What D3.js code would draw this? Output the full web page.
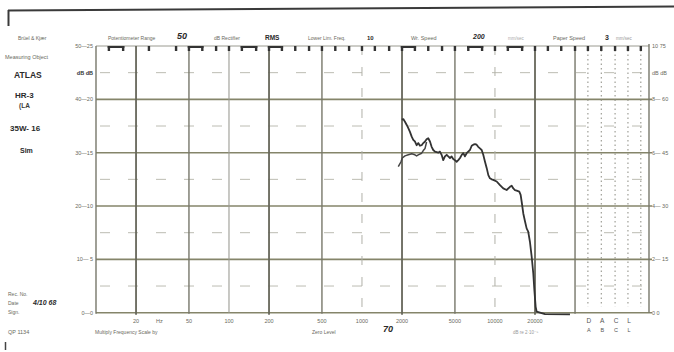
<!DOCTYPE html>
<html><head><meta charset="utf-8">
<script src="https://cdn.jsdelivr.net/npm/d3@7"></script>
<style>body{margin:0;background:#fff}svg{display:block}text{font-family:"Liberation Sans","DejaVu Sans",sans-serif}</style>
</head><body><svg id="c" width="674" height="352"></svg>
<script>
// ---- data ----
const traceFreq = [1990,2045,2105,2170,2230,2295,2365,2430,2500,2575,2650,2730,2810,2890,2980,3060,3150,3245,3340,3435,3540,3750,3855,3970,4085,4205,4335,4455,4590,4720,4855,5000,5150,5300,5460,5625,5780,5945,6125,6295,6485,6685,6870,7080,7280,7480,7710,7945,8165,8415,8670,8915,9165,9440,9705,10300,10910,11540,12240,12970,13360,13740,14130,14560,15240,15600,15880,16330,16830,17300,17780,18320,18880,19410,19770,20230,20590,23770,36640];
const traceDb = [36.2,36.3,35.8,35.2,34.6,33.9,33.0,32.4,32.1,31.4,31.8,31.3,31.4,31.8,32.1,32.5,32.7,32.1,31.1,30.5,30.2,30.0,30.2,29.6,28.6,29.3,29.6,29.3,29.0,29.3,28.8,28.6,28.3,28.6,29.0,29.6,29.9,29.3,29.9,30.2,30.5,31.3,31.5,31.6,31.5,31.1,30.8,30.5,29.6,28.3,27.1,25.8,25.2,25.0,24.9,24.6,23.9,23.3,23.0,23.6,23.8,23.3,23.0,22.9,22.7,22.1,20.8,18.6,17.1,15.8,15.2,13.3,10.5,7.4,4.3,1.1,0.2,-0.25,-0.3];
const startFreq = [1875,1965,2010,2105,2230,2365,2500,2575,2650,2810,2890,2980,3060];
const startDb = [27.4,28.3,29.0,29.4,29.6,29.8,29.6,29.4,29.6,29.9,30.4,30.8,32.0];

const majorDb = [0,10,20,30,40,50];
const minorDb = [5,15,25,35,45];
const leftLabels = ["0—0","10— 5","20—10","30—15","40—20","50—25"];
const rightLabels = ["0    0","2— 15","4— 30","6— 45","8— 60","10  75"];
const heavyFreq = [20,200,2000,20000];
const mediumFreq = [10,50,500,5000,40000];
const lightFreq = [100];
const dashedFreq = [1000,10000];
const weightFreq = [50000,63000,80000,100000,125000];
const weightRow1 = ["D","A","C","L"];
const weightRow2 = ["A","B","C","L"];
const tickFreqLabels = [20,50,100,200,500,1000,2000,5000,10000,20000];
const tickTexts = ["20","50","100","200","500","1000","2000","5000","10000","20000"];
const thirdOct = [12.5,16,25,40,50,63,80,100,125,160,200,250,315,400,500,630,800,1000,1250,1600,2000,2500,3150,4000,5000,6300,8000,10000,12500,16000,20000,25000,31500,40000,50000,63000,80000,100000,125000];
const bracketPairs = [[12.5,16],[50,63],[125,160],[200,250],[2000,2500],[6300,8000],[12500,16000]];

// ---- scales ----
const svg = d3.select("#c");
const x = d3.scaleLog().domain([10,20000]).range([96,535]);
const y = d3.scaleLinear().domain([0,50]).range([312.7,46]);
const xRight = 649;
const gridCol = "#85856a";

// frame marks
svg.append("line").attr("x1",8).attr("y1",10.5).attr("x2",674).attr("y2",6.5).attr("stroke","#3a3a3a").attr("stroke-width",2.2);
svg.append("line").attr("x1",8.5).attr("y1",10).attr("x2",8.5).attr("y2",26).attr("stroke","#3a3a3a").attr("stroke-width",2);
svg.append("line").attr("x1",5.5).attr("y1",342).attr("x2",5.5).attr("y2",350).attr("stroke","#444").attr("stroke-width",1.5);

const g = svg.append("g");
// minor horizontal dashed
g.selectAll(".mn").data(minorDb).join("line")
 .attr("x1",100).attr("x2",xRight-4).attr("y1",d=>y(d)).attr("y2",d=>y(d))
 .attr("stroke","#bcbcb2").attr("stroke-width",1).attr("stroke-dasharray","10,18");
// major horizontal
g.selectAll(".mj").data(majorDb.filter(d=>d!==50)).join("line")
 .attr("x1",x(10)).attr("x2",xRight+3).attr("y1",d=>y(d)).attr("y2",d=>y(d))
 .attr("stroke",gridCol).attr("stroke-width",1.6);
g.append("line").attr("x1",x(10)).attr("x2",xRight).attr("y1",y(50)).attr("y2",y(50)).attr("stroke","#9a9a90").attr("stroke-width",1);

// vertical lines
g.selectAll(".vh").data(heavyFreq).join("line")
 .attr("x1",d=>x(d)).attr("x2",d=>x(d)).attr("y1",y(50)).attr("y2",y(0)+2)
 .attr("stroke","#66665a").attr("stroke-width",1.8);
g.selectAll(".vm").data(mediumFreq).join("line")
 .attr("x1",d=>x(d)).attr("x2",d=>x(d)).attr("y1",y(50)).attr("y2",y(0)+1)
 .attr("stroke","#77776a").attr("stroke-width",1.4);
g.selectAll(".vl").data(lightFreq).join("line")
 .attr("x1",d=>x(d)).attr("x2",d=>x(d)).attr("y1",y(50)).attr("y2",y(0))
 .attr("stroke","#9c9c94").attr("stroke-width",1.1);
g.selectAll(".vd").data(dashedFreq).join("line")
 .attr("x1",d=>x(d)).attr("x2",d=>x(d)).attr("y1",y(50)).attr("y2",y(0))
 .attr("stroke","#b0b0a8").attr("stroke-width",1).attr("stroke-dasharray","9,12");
g.selectAll(".vw").data(weightFreq).join("line")
 .attr("x1",d=>x(d)).attr("x2",d=>x(d)).attr("y1",y(50)+4).attr("y2",y(0)-6)
 .attr("stroke","#8a8a80").attr("stroke-width",1).attr("stroke-dasharray","1.5,3");
g.append("line").attr("x1",xRight).attr("x2",xRight).attr("y1",y(50)-2).attr("y2",y(0))
 .attr("stroke","#77776a").attr("stroke-width",1.4);

// top tick marks (third-octave)
g.selectAll(".tk").data(thirdOct).join("rect")
 .attr("x",d=>x(d)-1.2).attr("y",y(50)).attr("width",2.4).attr("height",5).attr("fill","#333");
g.selectAll(".br").data(bracketPairs).join("rect")
 .attr("x",d=>x(d[0])-1.2).attr("y",y(50)).attr("width",d=>x(d[1])-x(d[0])+2.4).attr("height",2).attr("fill","#333");

// curve
const line = d3.line().x(d=>x(d[0])).y(d=>y(d[1]));
const trace = traceFreq.map((f,i)=>[f,traceDb[i]]);
const start = startFreq.map((f,i)=>[f,startDb[i]]);
g.append("path").attr("d",line(trace)).attr("fill","none").attr("stroke","#333").attr("stroke-width",1.8).attr("stroke-linejoin","round");
g.append("path").attr("d",line(start)).attr("fill","none").attr("stroke","#444").attr("stroke-width",1.5).attr("stroke-linejoin","round");

// axis labels
const lab = svg.append("g").attr("fill","#6a6a60").attr("font-size",5.5);
lab.selectAll(".ll").data(majorDb).join("text")
 .attr("x",93).attr("y",d=>y(d)+2).attr("text-anchor","end").text((d,i)=>leftLabels[i]);
lab.append("text").attr("x",93).attr("y",y(45)+2).attr("text-anchor","end").attr("fill","#333").attr("font-weight","bold").text("dB dB");
lab.selectAll(".rl").data(majorDb).join("text")
 .attr("x",652).attr("y",d=>y(d)+2).text((d,i)=>rightLabels[i]);
lab.append("text").attr("x",652).attr("y",y(45)+2).text("dB  dB");
lab.selectAll(".fl").data(tickFreqLabels).join("text")
 .attr("x",d=>x(d)).attr("y",323).attr("text-anchor","middle").text((d,i)=>tickTexts[i]);
lab.append("text").attr("x",x(30)).attr("y",323).attr("text-anchor","middle").text("Hz");
lab.selectAll(".w1").data(weightRow1).join("text")
 .attr("x",(d,i)=>x(weightFreq[i])+1).attr("y",323).attr("text-anchor","middle").attr("font-size",6.5).attr("fill","#555").text(d=>d);
lab.selectAll(".w2").data(weightRow2).join("text")
 .attr("x",(d,i)=>x(weightFreq[i])+1).attr("y",332).attr("text-anchor","middle").attr("font-size",5.5).attr("fill","#555").text(d=>d);

// header / side texts
const txt = (s,xx,yy,o={})=>svg.append("text").attr("x",xx).attr("y",yy)
  .attr("font-size",o.size||5.5).attr("fill",o.fill||"#6a6a60")
  .attr("font-weight",o.bold?"bold":null).attr("font-style",o.italic?"italic":null).text(s);
txt("Brüel & Kjær",18,40,{size:5});
txt("Measuring Object",5,59,{size:5.5});
txt("ATLAS",14,78,{size:8.5,bold:true,fill:"#2a2a2a"});
txt("HR-3",15,98,{size:8,bold:true,fill:"#2a2a2a"});
txt("(LA",19,108,{size:6.5,bold:true,fill:"#3a3a3a"});
txt("35W- 16",10,131,{size:8,bold:true,fill:"#2a2a2a"});
txt("Sim",20,153,{size:7,bold:true,fill:"#2a2a2a"});
txt("Rec. No.",8,296,{size:5});
txt("Date",8,305,{size:5});
txt("4/10 68",33,305,{size:7,bold:true,italic:true,fill:"#2a2a2a"});
txt("Sign.",8,314,{size:5});
txt("QP 1134",8,334,{size:5.5});
txt("Potentiometer Range",108,40,{size:5});
txt("50",177,39,{size:9,bold:true,italic:true,fill:"#2a2a2a"});
txt("dB  Rectifier",214,40,{size:5});
txt("RMS",265,40,{size:6.5,bold:true,fill:"#2a2a2a"});
txt("Lower Lim. Freq.",308,40,{size:5});
txt("10",367,40,{size:6,bold:true,fill:"#2a2a2a"});
txt("Wr. Speed",411,40,{size:5.5});
txt("200",473,39,{size:7,bold:true,italic:true,fill:"#2a2a2a"});
txt("mm/sec",508,40,{size:4.5,fill:"#aaa"});
txt("Paper Speed",553,40,{size:5.5});
txt("3",605,40,{size:7,bold:true,fill:"#2a2a2a"});
txt("mm/sec",616,40,{size:4.5,fill:"#999"});
txt("Multiply Frequency Scale by",95,334,{size:5});
txt("Zero Level",312,334,{size:5});
txt("70",383,332,{size:9,bold:true,italic:true,fill:"#2a2a2a"});
txt("dB re 2·10⁻⁵",513,334,{size:4.5,fill:"#999"});
</script></body></html>
